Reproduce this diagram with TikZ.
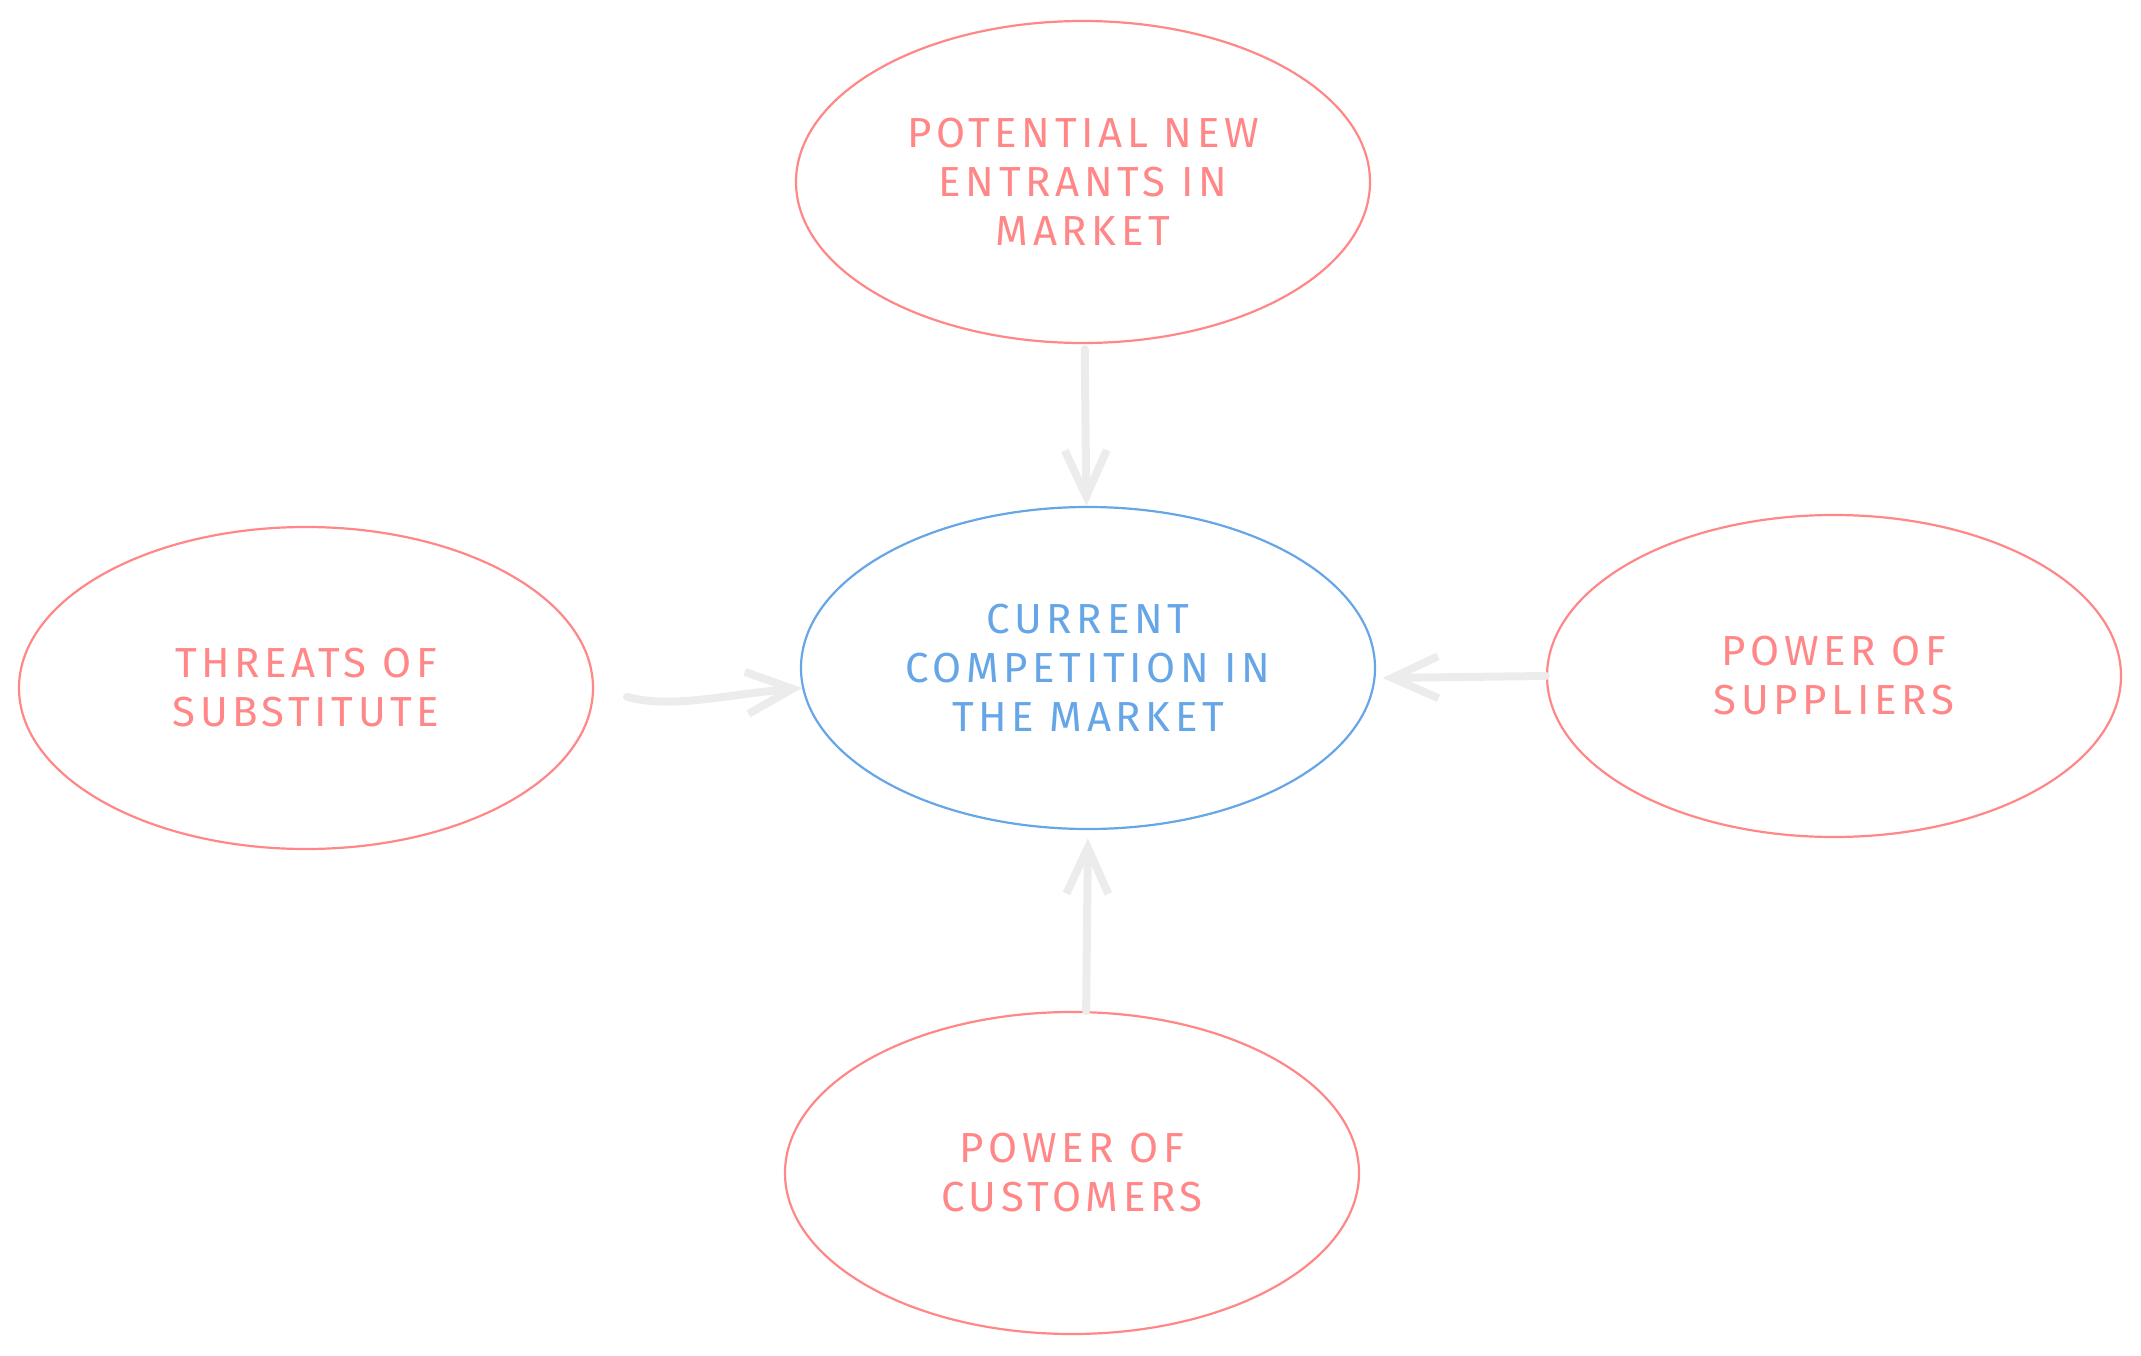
\documentclass[tikz,border=0pt]{standalone}
\usepackage{fontspec}
\setmainfont[LetterSpace=11]{Fira Sans}
\usetikzlibrary{shapes.geometric,arrows.meta}

\definecolor{forcered}{HTML}{FF8787}
\definecolor{marketblue}{HTML}{66A6E6}
\definecolor{arrowgray}{HTML}{ECECEC}

\begin{document}
\begin{tikzpicture}[x=1pt,y=1pt,
	force node/.style={ellipse,draw=forcered,line width=2.2pt,text=forcered,minimum width=574pt,minimum height=322pt,inner sep=0pt,align=center,font=\fontsize{42}{49}\selectfont},
	market node/.style={force node,draw=marketblue,text=marketblue},
	push/.style={draw=arrowgray,line width=8pt,line cap=round,line join=round,-{Straight Barb[length=46pt,width=42pt]}}]
				
				\useasboundingbox (0,0) rectangle (2141,-1356);
				
				\node[market node] (comp) at (1088,-668) {CURRENT\\COMPETITION IN\\THE MARKET};
				\node[force node] (entrants) at (1083,-182) {POTENTIAL NEW\\ENTRANTS IN\\MARKET};
				\node[force node] (substitute) at (306,-688) {THREATS OF\\SUBSTITUTE};
				\node[force node] (suppliers) at (1834,-676) {POWER OF\\SUPPLIERS};
				\node[force node] (customers) at (1072,-1173) {POWER OF\\CUSTOMERS};
				
				\path (entrants) edge[push,shorten <=5pt] (comp);
				\path (substitute.east) edge[push,out=-15,in=185,shorten <=34pt] (comp.184);
				\path (suppliers.west) edge[push,shorten >=7pt] (comp.358);
				\path (customers.85) edge[push,shorten >=8pt] (comp.south);
				
				\end{tikzpicture}
\end{document}
